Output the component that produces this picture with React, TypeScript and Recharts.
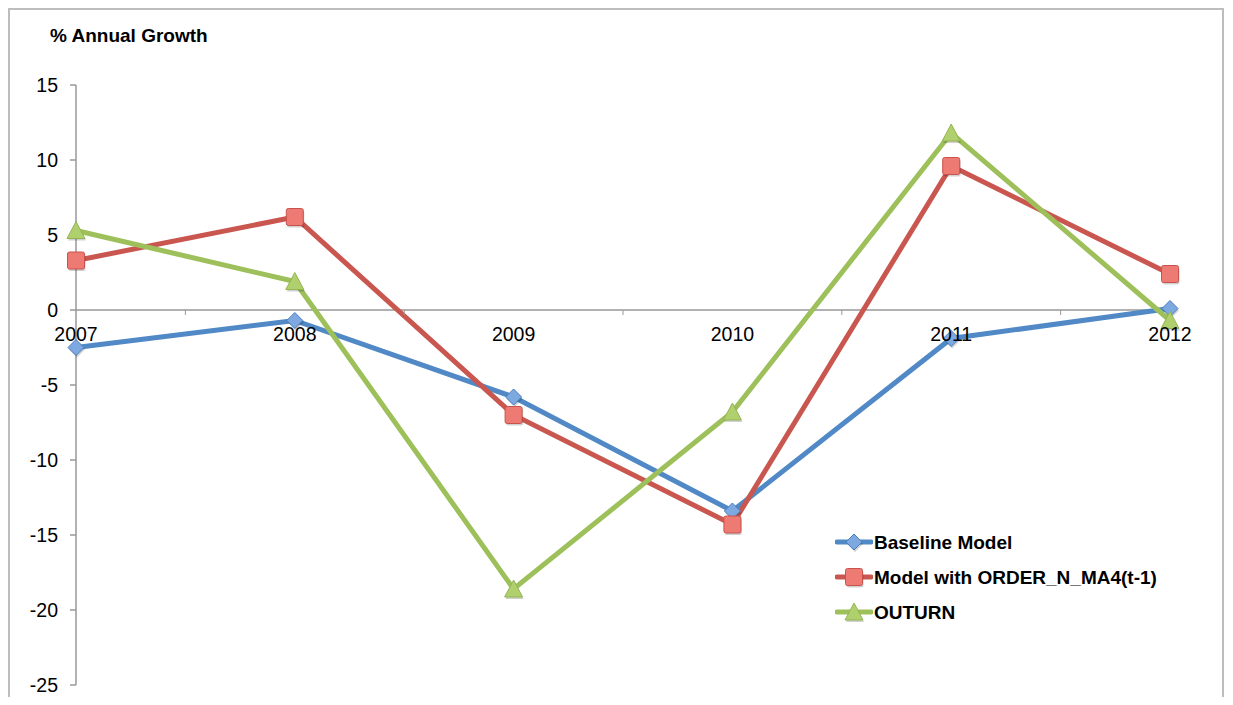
import { LineChart, Line, XAxis, YAxis, ReferenceLine } from 'recharts';

const years = [2007, 2008, 2009, 2010, 2011, 2012];
const baselineModel = [-2.5, -0.7, -5.8, -13.4, -1.9, 0.1];
const orderModel = [3.3, 6.2, -7.0, -14.3, 9.6, 2.4];
const outturn = [5.3, 1.9, -18.6, -6.8, 11.8, -0.7];
const yTicks = [-25, -20, -15, -10, -5, 0, 5, 10, 15];

const Y_MIN = -25;
const Y_MAX = 15;
const CHART_W = 1212;
const CHART_H = 716;
const MARGIN = { top: 75, right: 52, bottom: 17, left: 0 };
const X_AXIS_H = 24;
const PLOT_H = CHART_H - MARGIN.top - MARGIN.bottom - X_AXIS_H;
// where the value 0 sits, the category axis runs through it
const ZERO_Y = MARGIN.top + (PLOT_H * Y_MAX) / (Y_MAX - Y_MIN);

const FONT = '"Liberation Sans", Arial, Helvetica, sans-serif';

const data = years.map((year, i) => ({
    year,
    baseline: baselineModel[i],
    order: orderModel[i],
    outturn: outturn[i],
}));

// labels on the years, small ticks half way between them
const xTicks = years.flatMap((y, i) => (i < years.length - 1 ? [y, y + 0.5] : [y]));

const series = [
    { key: 'baseline', name: 'Baseline Model', stroke: '#5089C6', fill: '#7DA9E0', edge: '#4A7FBE', shape: 'diamond' },
    { key: 'order', name: 'Model with ORDER_N_MA4(t-1)', stroke: '#C9564F', fill: '#EE7A74', edge: '#C9524C', shape: 'square' },
    { key: 'outturn', name: 'OUTURN', stroke: '#9DC05A', fill: '#AFD06D', edge: '#94B552', shape: 'triangle' },
];

function Marker({ cx, cy, shape, fill, edge }: any) {
    if (cx == null || cy == null) return null;
    if (shape === 'diamond') {
        const r = 8;
        const pts = (dx: number, dy: number) =>
            `${cx + dx},${cy + dy - r} ${cx + dx + r},${cy + dy} ${cx + dx},${cy + dy + r} ${cx + dx - r},${cy + dy}`;
        return (
            <g>
                <polygon points={pts(1, 2)} fill="rgba(0,0,0,0.18)" />
                <polygon points={pts(0, 0)} fill={fill} stroke={edge} strokeWidth={1} />
            </g>
        );
    }
    if (shape === 'square') {
        const s = 8.5;
        return (
            <g>
                <rect x={cx - s + 1} y={cy - s + 2} width={s * 2} height={s * 2} rx={2} fill="rgba(0,0,0,0.18)" />
                <rect x={cx - s} y={cy - s} width={s * 2} height={s * 2} rx={2} fill={fill} stroke={edge} strokeWidth={1} />
            </g>
        );
    }
    const h = 9;
    const tri = (dx: number, dy: number) =>
        `${cx + dx},${cy + dy - h} ${cx + dx + h},${cy + dy + h - 1} ${cx + dx - h},${cy + dy + h - 1}`;
    return (
        <g>
            <polygon points={tri(1, 2)} fill="rgba(0,0,0,0.18)" />
            <polygon points={tri(0, 0)} fill={fill} stroke={edge} strokeWidth={1} />
        </g>
    );
}

function YearTick({ x, payload }: any) {
    const v = payload.value;
    if (Number.isInteger(v)) {
        return (
            <text x={x} y={ZERO_Y + 31} textAnchor="middle" fontSize={19.5} fontFamily={FONT} fill="#000">
                {v}
            </text>
        );
    }
    return <line x1={x} x2={x} y1={ZERO_Y} y2={ZERO_Y + 5} stroke="#999" strokeWidth={1} />;
}

function LegendBox() {
    return (
        <div
            style={{
                position: 'absolute',
                left: 825,
                top: 515,
                fontFamily: FONT,
                fontSize: 19,
                fontWeight: 'bold',
                color: '#000',
                whiteSpace: 'nowrap',
            }}
        >
            {series.map((s) => (
                <div key={s.key} style={{ display: 'flex', alignItems: 'center', height: 35 }}>
                    <svg width={38} height={22} style={{ marginRight: 1 }}>
                        <line x1={2} x2={36} y1={10} y2={10} stroke={s.stroke} strokeWidth={5} strokeLinecap="round" />
                        <Marker cx={19} cy={10} shape={s.shape} fill={s.fill} edge={s.edge} />
                    </svg>
                    <span>{s.name}</span>
                </div>
            ))}
        </div>
    );
}

export default function App() {
    return (
        <div
            style={{
                position: 'relative',
                width: 1216,
                height: 689,
                overflow: 'hidden',
                borderTop: '2px solid #bdbdbd',
                borderLeft: '2px solid #bdbdbd',
                borderRight: '2px solid #bdbdbd',
                boxSizing: 'border-box',
                background: '#fff',
            }}
        >
            <div
                style={{
                    position: 'absolute',
                    left: 40,
                    top: 15,
                    fontFamily: FONT,
                    fontSize: 19,
                    fontWeight: 'bold',
                    color: '#000',
                    whiteSpace: 'nowrap',
                }}
            >
                % Annual Growth
            </div>
            <LineChart width={CHART_W} height={CHART_H} data={data} margin={MARGIN}>
                <XAxis
                    dataKey="year"
                    type="number"
                    domain={[2007, 2012]}
                    ticks={xTicks}
                    interval={0}
                    height={X_AXIS_H}
                    axisLine={false}
                    tickLine={false}
                    tick={<YearTick />}
                />
                <YAxis
                    domain={[Y_MIN, Y_MAX]}
                    ticks={yTicks}
                    interval={0}
                    width={66}
                    axisLine={{ stroke: '#999', strokeWidth: 1.5 }}
                    tickLine={{ stroke: '#999', strokeWidth: 1.5 }}
                    tickSize={6}
                    tickMargin={12}
                    tick={{ fill: '#000', fontSize: 19.5, fontFamily: FONT }}
                />
                <ReferenceLine y={0} stroke="#999" strokeWidth={1.5} />
                {series.map((s) => (
                    <Line
                        key={s.key}
                        dataKey={s.key}
                        name={s.name}
                        type="linear"
                        stroke={s.stroke}
                        strokeWidth={5}
                        dot={(p: any) => <Marker key={`${s.key}-${p.index}`} cx={p.cx} cy={p.cy} shape={s.shape} fill={s.fill} edge={s.edge} />}
                        activeDot={false}
                        isAnimationActive={false}
                    />
                ))}
            </LineChart>
            <LegendBox />
        </div>
    );
}
